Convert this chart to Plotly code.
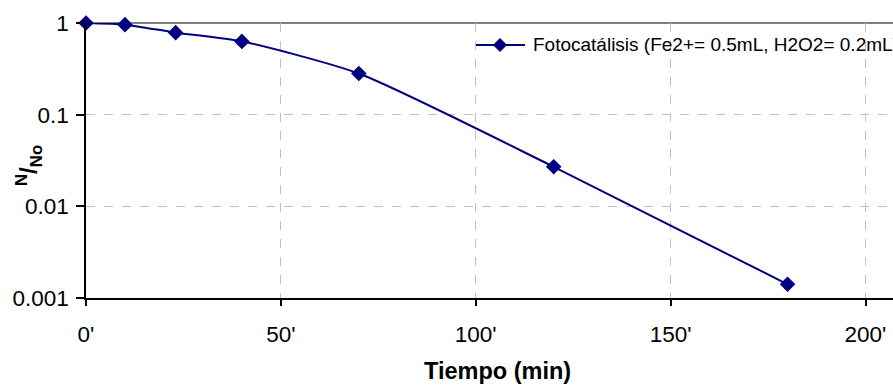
import plotly.graph_objects as go

tiempo = [0, 10, 23, 40, 70, 120, 180]
n_no = [1.0, 0.96, 0.785, 0.63, 0.281, 0.027, 0.00141]
series_name = "Fotocatálisis (Fe2+= 0.5mL, H2O2= 0.2mL)"
x_tickvals = [0, 50, 100, 150, 200]
x_ticktext = ["0'", "50'", "100'", "150'", "200'"]
y_tickvals = [0.001, 0.01, 0.1, 1]
y_ticktext = ["0.001", "0.01", "0.1", "1"]

FONT = "Liberation Sans, Arial, sans-serif"
NAVY = "#000080"

L, R, T, B = 86, 0, 23, 87
W, H = 893, 385
PW, PH = W - L - R, H - T - B


def px_x(p):
    return (p - L) / PW


def px_y(p):
    return 1 - (p - T) / PH


fig = go.Figure()
fig.add_trace(go.Scatter(
    x=tiempo, y=n_no, mode="lines+markers", name=series_name,
    line=dict(color=NAVY, width=2, shape="spline", smoothing=0.6),
    marker=dict(symbol="diamond", size=12, color=NAVY),
    cliponaxis=False, showlegend=False,
))

leg_y = 45
fig.update_layout(
    width=W, height=H,
    margin=dict(l=L, r=R, t=T, b=B, pad=0),
    paper_bgcolor="white", plot_bgcolor="white",
    font=dict(family=FONT, color="black", size=22),
    showlegend=False,
    xaxis=dict(
        range=[0, PW / 3.8975],
        tickvals=x_tickvals, ticktext=x_ticktext,
        showline=True, linecolor="black", linewidth=1.5,
        ticks="outside", ticklen=6, tickcolor="black", tickwidth=1.5,
        ticklabelstandoff=9,
        showgrid=True, gridcolor="#c0c0c0", griddash="dash", gridwidth=1.2,
        zeroline=False,
        tickfont=dict(family=FONT, size=22.5, color="black"),
    ),
    yaxis=dict(
        type="log", range=[-3, 0],
        tickvals=y_tickvals, ticktext=y_ticktext,
        showline=True, linecolor="black", linewidth=1.5,
        ticks="outside", ticklen=8, tickcolor="black", tickwidth=1.5,
        ticklabelstandoff=3,
        showgrid=True, gridcolor="#c0c0c0", griddash="dash", gridwidth=1.2,
        zeroline=False,
        tickfont=dict(family=FONT, size=22.5, color="black"),
    ),
    shapes=[
        dict(type="line", xref="paper", yref="paper", x0=0, x1=1, y0=1, y1=1,
             line=dict(color="#808080", width=2), layer="below"),
        dict(type="line", xref="paper", yref="paper", x0=px_x(476), x1=px_x(525),
             y0=px_y(leg_y), y1=px_y(leg_y), line=dict(color=NAVY, width=2)),
        dict(type="path", xref="paper", yref="paper",
             xsizemode="pixel", ysizemode="pixel",
             xanchor=px_x(500), yanchor=px_y(leg_y),
             path="M -6.5 0 L 0 6.5 L 6.5 0 L 0 -6.5 Z",
             fillcolor=NAVY, line=dict(color=NAVY, width=1)),
    ],
    annotations=[
        dict(text=series_name, xref="paper", yref="paper",
             x=px_x(531), y=px_y(leg_y), xanchor="left", yanchor="middle",
             showarrow=False, font=dict(family=FONT, size=19, color="black")),
        dict(text="<b>Tiempo (min)</b>", xref="paper", yref="paper",
             x=px_x(497), y=px_y(371),
             xanchor="center", yanchor="middle", showarrow=False,
             font=dict(family=FONT, size=23.5, color="black")),
        dict(text="<b><sup>N</sup>/<sub>No</sub></b>", xref="paper", yref="paper",
             x=px_x(29), y=px_y(165),
             xanchor="center", yanchor="middle", showarrow=False, textangle=-90,
             font=dict(family=FONT, size=24, color="black")),
    ],
)

fig.write_html("out.html")
